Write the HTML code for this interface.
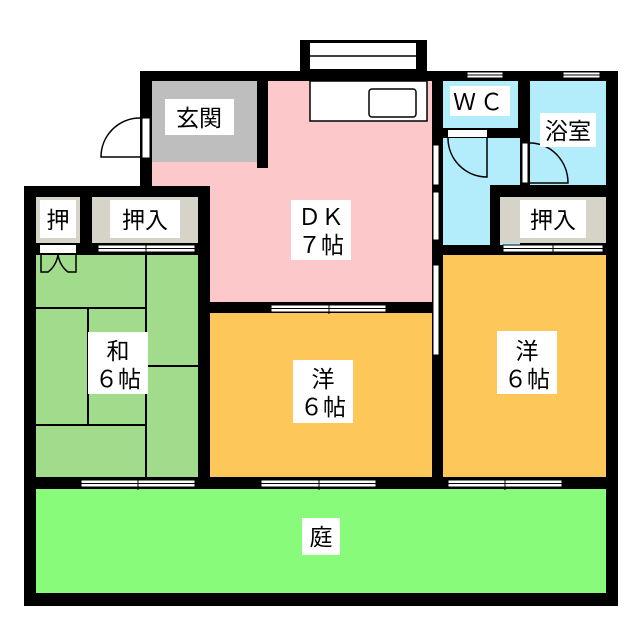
<!DOCTYPE html>
<html><head><meta charset="utf-8"><style>
html,body{margin:0;padding:0;background:#fff;}
svg{display:block;}
text{font-family:"Liberation Sans","Noto Sans CJK JP",sans-serif;font-size:23px;fill:#000;}
</style></head><body>
<svg width="640" height="640" viewBox="0 0 640 640" xmlns="http://www.w3.org/2000/svg">
<rect x="300" y="40" width="127" height="34" fill="#000"/>
<rect x="310" y="43" width="106" height="26" fill="#fff"/>
<line x1="310" y1="56" x2="416" y2="56" stroke="#000" stroke-width="1.5"/>
<rect x="140" y="71" width="478" height="535" fill="#000"/>
<rect x="24" y="186" width="186" height="420" fill="#000"/>
<!-- genkan -->
<rect x="152" y="81" width="105" height="81" fill="#bebebe"/>
<!-- DK pink -->
<rect x="268" y="81" width="164" height="221" fill="#fdc8c9"/>
<rect x="152" y="162" width="280" height="24" fill="#fdc8c9"/>
<rect x="210" y="162" width="222" height="140" fill="#fdc8c9"/>
<rect x="257" y="162" width="11" height="6" fill="#000"/>
<!-- kitchen counter -->
<rect x="310" y="81" width="117" height="40" fill="#fff" stroke="#000" stroke-width="1.5"/>
<rect x="369" y="89" width="47" height="28" rx="3" fill="#fff" stroke="#000" stroke-width="1.5"/>
<rect x="443" y="81" width="75" height="47" fill="#b3ecfa"/>
<rect x="443" y="138" width="77" height="107" fill="#b3ecfa"/>
<rect x="530" y="81" width="76" height="104" fill="#b3ecfa"/>
<rect x="520" y="138" width="10" height="47" fill="#000"/>
<rect x="490" y="185" width="116" height="12" fill="#000"/>
<rect x="490" y="185" width="10" height="60" fill="#000"/>
<rect x="500" y="197" width="106" height="46" fill="#d6d3c8"/>
<rect x="36" y="197" width="44" height="46" fill="#d6d3c8"/>
<rect x="92" y="197" width="106" height="46" fill="#d6d3c8"/>
<rect x="36" y="255" width="162" height="222" fill="#a0dc8c"/>
<g stroke="#000" stroke-width="2">
<line x1="146" y1="255" x2="146" y2="477"/>
<line x1="36" y1="308" x2="146" y2="308"/>
<line x1="36" y1="425" x2="146" y2="425"/>
<line x1="88" y1="308" x2="88" y2="425"/>
<line x1="146" y1="366" x2="198" y2="366"/>
</g>
<rect x="40" y="245" width="36" height="8" fill="#fff"/>
<path d="M41 255 V272 H48 Q56 266 58 255 M58 255 Q60 266 68 272 H76 V255" fill="none" stroke="#000" stroke-width="1.5"/>
<rect x="210" y="313" width="222" height="164" fill="#fdc859"/>
<rect x="443" y="255" width="163" height="222" fill="#fdc859"/>
<rect x="36" y="489" width="570" height="104" fill="#88fb7b"/>
<g fill="#fff" stroke="#000" stroke-width="1">
<rect x="81" y="480" width="114" height="7"/>
<rect x="261" y="480" width="115" height="7"/>
<rect x="448" y="480" width="114" height="7"/>
<rect x="271" y="305" width="115" height="7"/>
<rect x="98" y="245" width="97" height="7"/>
<rect x="503" y="245" width="100" height="7"/>
<rect x="467" y="72" width="36" height="6"/>
<rect x="563" y="72" width="37" height="6"/>
</g>
<g stroke="#000" stroke-width="1">
<line x1="81" y1="483.5" x2="195" y2="483.5"/>
<line x1="261" y1="483.5" x2="376" y2="483.5"/>
<line x1="448" y1="483.5" x2="562" y2="483.5"/>
<line x1="271" y1="308.5" x2="386" y2="308.5"/>
<line x1="98" y1="248.5" x2="195" y2="248.5"/>
<line x1="503" y1="248.5" x2="603" y2="248.5"/>
<line x1="467" y1="75" x2="503" y2="75"/>
<line x1="563" y1="75" x2="600" y2="75"/>
<line x1="138" y1="477" x2="138" y2="490"/>
<line x1="319" y1="477" x2="319" y2="490"/>
<line x1="505" y1="477" x2="505" y2="490"/>
<line x1="329" y1="302" x2="329" y2="314"/>
<line x1="146" y1="243" x2="146" y2="255"/>
<line x1="553" y1="243" x2="553" y2="255"/>
</g>
<g fill="#fff" stroke="#000" stroke-width="1">
<rect x="433" y="145" width="6" height="40"/>
<rect x="433" y="192" width="6" height="48"/>
<rect x="433" y="265" width="6" height="90"/>
</g>
<rect x="142" y="118" width="8" height="40" fill="#fff" stroke="#000" stroke-width="1"/>
<path d="M140 118 A39 39 0 0 0 101 157 H140" fill="none" stroke="#000" stroke-width="1.5"/>
<rect x="448" y="130" width="39" height="7" fill="#fff"/>
<path d="M448 138 A39 39 0 0 0 487 177 V138" fill="none" stroke="#000" stroke-width="1.5"/>
<rect x="522" y="143" width="6" height="40" fill="#fff" stroke="#000" stroke-width="1"/>
<path d="M530 143 A38 40 0 0 1 568 183 H530" fill="none" stroke="#000" stroke-width="1.5"/>
<g fill="#fff">
<rect x="165" y="99" width="69" height="36"/>
<rect x="450" y="86" width="60" height="30"/>
<rect x="540" y="113" width="56" height="34"/>
<rect x="40" y="200" width="36" height="38"/>
<rect x="110" y="200" width="70" height="38"/>
<rect x="520" y="200" width="66" height="38"/>
<rect x="291" y="200" width="60" height="60"/>
<rect x="88" y="332" width="60" height="62"/>
<rect x="293" y="360" width="60" height="63"/>
<rect x="497" y="331" width="60" height="63"/>
<rect x="302" y="518" width="38" height="37"/>
</g>
<text x="199" y="126" text-anchor="middle">玄関</text>
<text x="480" y="110" text-anchor="middle" letter-spacing="4">ＷＣ</text>
<text x="568" y="139" text-anchor="middle">浴室</text>
<text x="58" y="228" text-anchor="middle">押</text>
<text x="145" y="228" text-anchor="middle">押入</text>
<text x="553" y="228" text-anchor="middle">押入</text>
<text x="321" y="225" text-anchor="middle">ＤＫ</text>
<text x="321" y="253" text-anchor="middle">７帖</text>
<text x="118" y="359" text-anchor="middle">和</text>
<text x="118" y="387" text-anchor="middle">６帖</text>
<text x="323" y="387" text-anchor="middle">洋</text>
<text x="323" y="415" text-anchor="middle">６帖</text>
<text x="527" y="359" text-anchor="middle">洋</text>
<text x="527" y="387" text-anchor="middle">６帖</text>
<text x="321" y="545" text-anchor="middle">庭</text>
</svg>
</body></html>
